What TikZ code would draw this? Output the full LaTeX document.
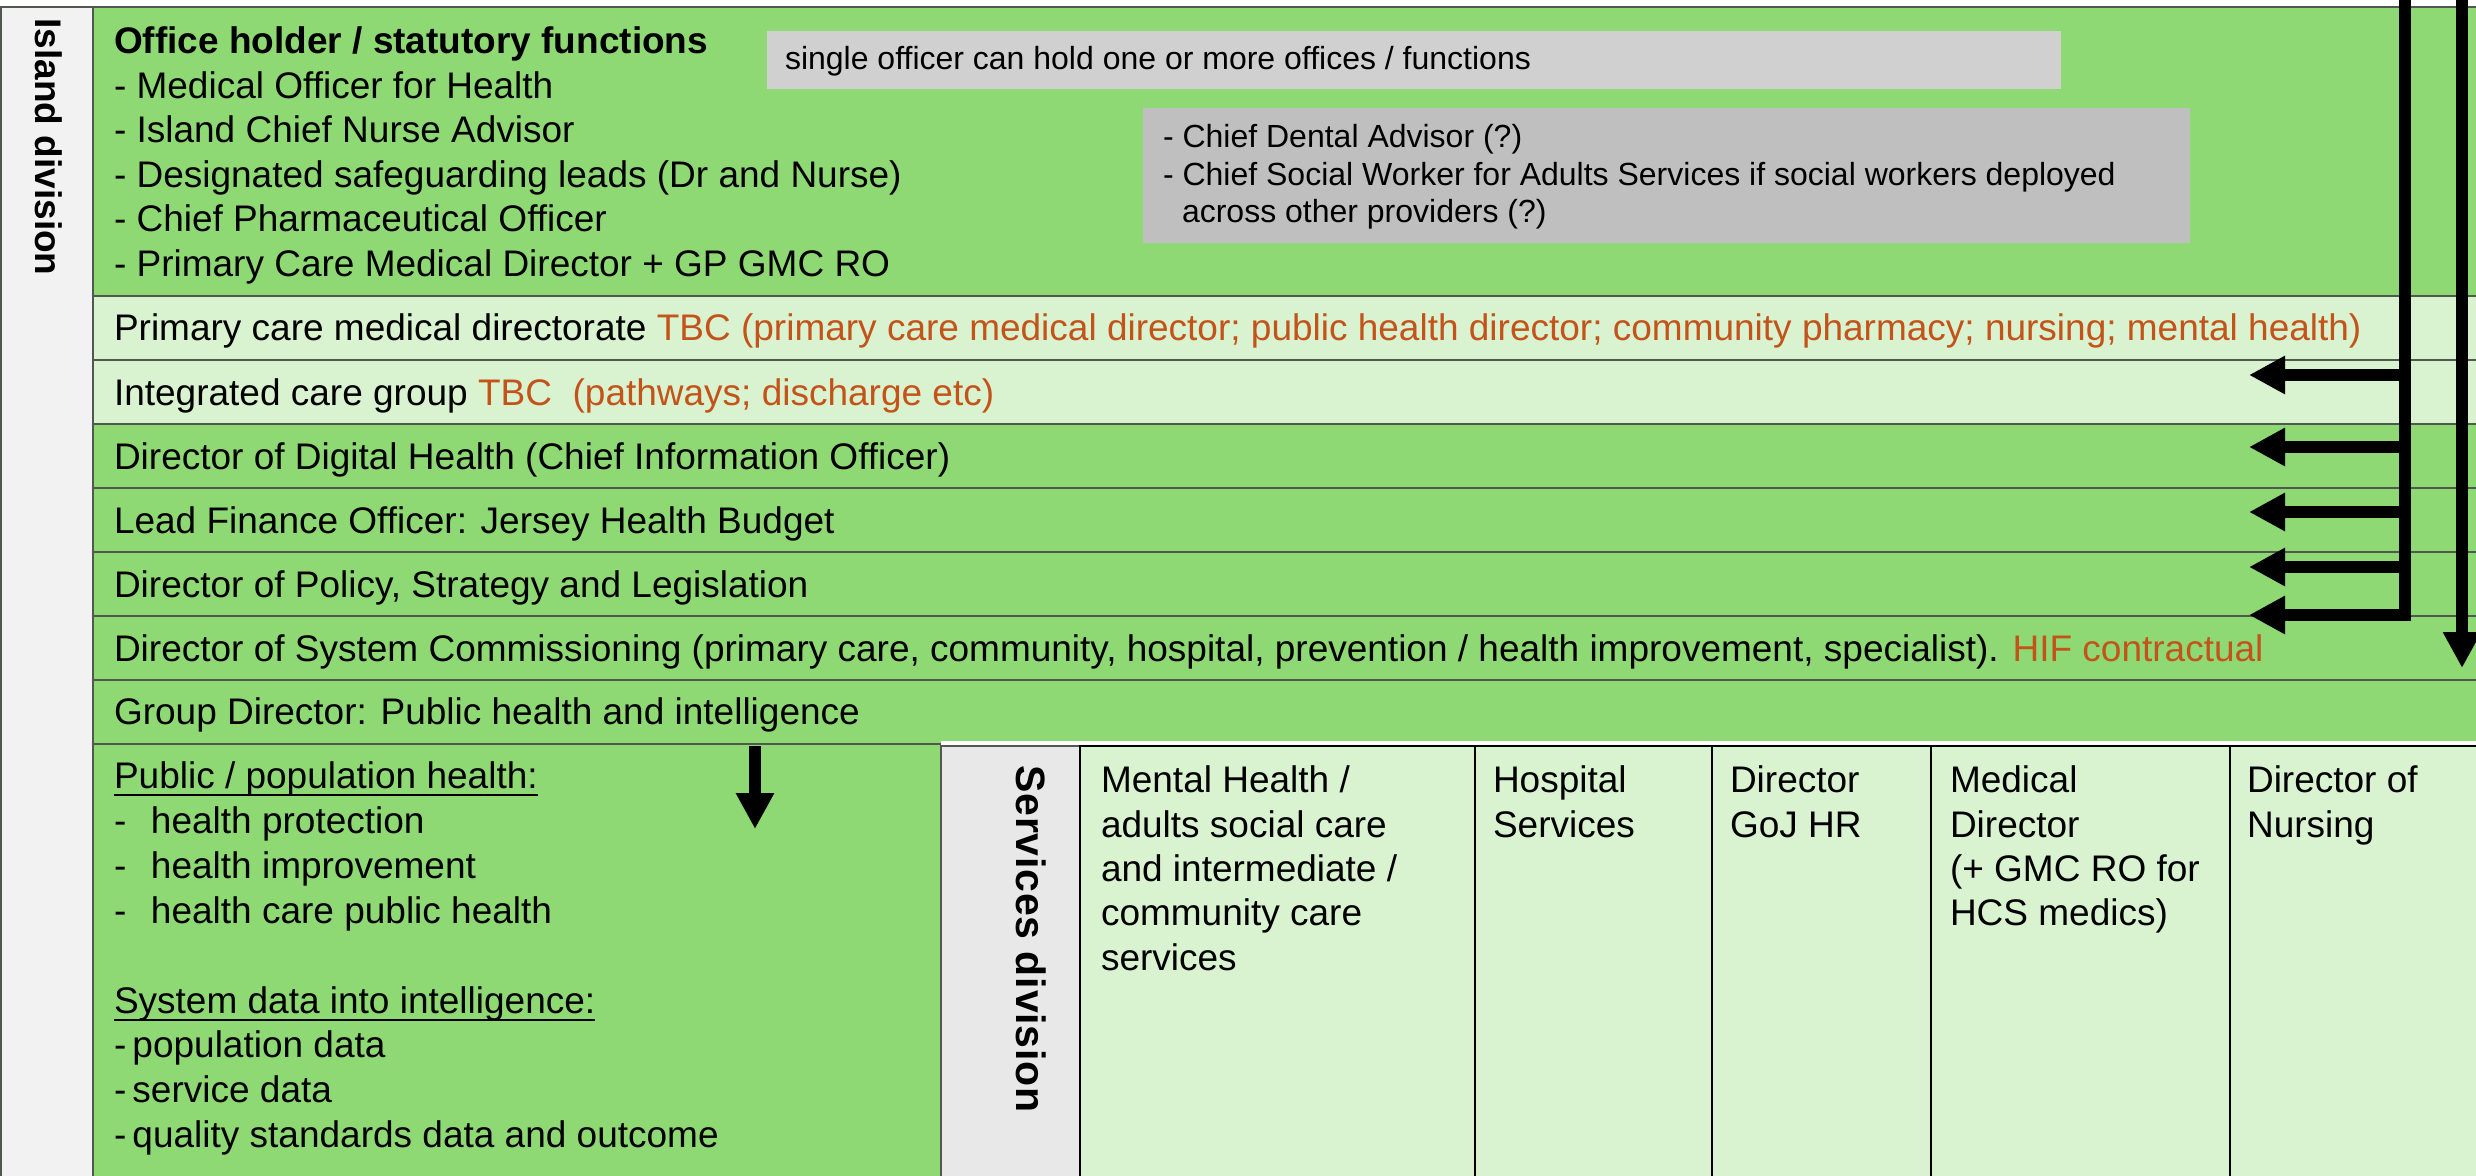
\documentclass[tikz,border=0pt]{standalone}
\usepackage{fontspec}
\setmainfont{Liberation Sans}
\usetikzlibrary{arrows.meta}

\definecolor{rowgreen}{HTML}{8ED973}
\definecolor{rowpale}{HTML}{D9F2D0}
\definecolor{notegray}{HTML}{D0D0D0}
\definecolor{notegraydark}{HTML}{BFBFBF}
\definecolor{sidegray}{HTML}{F2F2F2}
\definecolor{svcgray}{HTML}{E8E8E8}
\definecolor{tbc}{HTML}{C4531A}
\definecolor{rulegray}{HTML}{505850}

\newcommand\bodyfont{\fontsize{18.5pt}{22pt}\selectfont}
\newcommand\notefont{\fontsize{16pt}{19pt}\selectfont}

\tikzset{
  panel/.style={draw=rulegray, line width=1pt},
  cell/.style={fill=rowpale, draw=black, line width=1pt},
  txt/.style={anchor=base west, inner sep=0pt, outer sep=0pt, font=\bodyfont},
  note/.style={txt, font=\notefont},
  divlabel/.style={inner sep=0pt, outer sep=0pt, rotate=-90},
  fatarrow/.style={line width=6pt, -{Triangle[length=18pt,width=18pt]}},
  underrule/.style={line width=1pt}
}

\begin{document}
\begin{tikzpicture}[x=0.5pt, y=-0.5pt]
\useasboundingbox (0,0) rectangle (2476,1176);
\fill[white] (0,0) rectangle (2476,1176);

% side column of the island division
\filldraw[fill=sidegray, panel] (1,7) rectangle (93,1182);

% office holder panel and the directorate rows
\filldraw[fill=rowgreen, panel] (93,7) rectangle (2482,296);
\filldraw[fill=rowpale, panel] (93,296) rectangle (2482,360);
\filldraw[fill=rowpale, panel] (93,360) rectangle (2482,424);
\filldraw[fill=rowgreen, panel] (93,424) rectangle (2482,488);
\filldraw[fill=rowgreen, panel] (93,488) rectangle (2482,552);
\filldraw[fill=rowgreen, panel] (93,552) rectangle (2482,616);
\filldraw[fill=rowgreen, panel] (93,616) rectangle (2482,680);
\filldraw[fill=rowgreen, panel] (93,680) rectangle (2482,744);

% public health panel
\filldraw[fill=rowgreen, panel] (93,744) rectangle (941,1182);

% services division table
\fill[white] (941,741) rectangle (2482,746);
\filldraw[fill=svcgray, panel] (941,746) rectangle (1080,1182);
\filldraw[cell] (1080,746) rectangle (1475,1182);
\filldraw[cell] (1475,746) rectangle (1712,1182);
\filldraw[cell] (1712,746) rectangle (1931,1182);
\filldraw[cell] (1931,746) rectangle (2230,1182);
\filldraw[cell] (2230,746) rectangle (2482,1182);

% side notes
\fill[notegray] (767,31) rectangle (2061,89);
\fill[notegraydark] (1143,108) rectangle (2190,243);

% division labels
\node[divlabel, font=\bodyfont\bfseries] (island) at (49,147) {Island division};
\node[divlabel, font=\fontsize{20.5pt}{24pt}\selectfont\bfseries\addfontfeature{LetterSpace=2}] (services) at (1031,939) {Services division};

% office holders
\node[txt, font=\bodyfont\bfseries] (hdr) at (114,54) {Office holder / statutory functions};
\node[txt] (of1) at (114,98.5) {- Medical Officer for Health};
\node[txt] (of2) at (114,143) {- Island Chief Nurse Advisor};
\node[txt] (of3) at (114,187.5) {- Designated safeguarding leads (Dr and Nurse)};
\node[txt] (of4) at (114,232) {- Chief Pharmaceutical Officer};
\node[txt] (of5) at (114,276.5) {- Primary Care Medical Director + GP GMC RO};

\node[note] (nt1) at (785,70) {single officer can hold one or more offices / functions};
\node[note] (nt2) at (1163,148) {- Chief Dental Advisor (?)};
\node[note] (nt3) at (1163,186) {- Chief Social Worker for Adults Services if social workers deployed};
\node[note] (nt4) at (1182,223) {across other providers (?)};

% directorate rows
\node[txt] (rPC) at (114,341) {Primary care medical directorate \textcolor{tbc}{TBC (primary care medical director; public health director; community pharmacy; nursing; mental health)}};
\node[txt] (rIC) at (114,405) {Integrated care group \textcolor{tbc}{TBC\ \ (pathways; discharge etc)}};
\node[txt] (rDH) at (114,469) {Director of Digital Health (Chief Information Officer)};
\node[txt] (rLF) at (114,533) {Lead Finance Officer: Jersey Health Budget};
\node[txt] (rPol) at (114,597) {Director of Policy, Strategy and Legislation};
\node[txt] (rSC) at (114,661) {Director of System Commissioning (primary care, community, hospital, prevention / health improvement, specialist). \textcolor{tbc}{HIF contractual}};
\node[txt] (rGD) at (114,724) {Group Director: Public health and intelligence};

% public health and intelligence
\node[txt] (phH) at (114,788) {Public / population health:};
\draw[underrule] ([yshift=-3.5pt]phH.base west) -- ([yshift=-3.5pt]phH.base east);
\node[txt] (ph1) at (114,833) {\makebox[18.5pt][l]{-}health protection};
\node[txt] (ph2) at (114,878) {\makebox[18.5pt][l]{-}health improvement};
\node[txt] (ph3) at (114,923) {\makebox[18.5pt][l]{-}health care public health};
\node[txt] (sdH) at (114,1013) {System data into intelligence:};
\draw[underrule] ([yshift=-3.5pt]sdH.base west) -- ([yshift=-3.5pt]sdH.base east);
\node[txt] (sd1) at (114,1057) {-\,population data};
\node[txt] (sd2) at (114,1102) {-\,service data};
\node[txt] (sd3) at (114,1147) {-\,quality standards data and outcome};

% services columns
\node[txt] (mh1) at (1101,792) {Mental Health /};
\node[txt] (mh2) at (1101,837) {adults social care};
\node[txt] (mh3) at (1101,881) {and intermediate /};
\node[txt] (mh4) at (1101,925) {community care};
\node[txt] (mh5) at (1101,970) {services};
\node[txt] (hs1) at (1493,792) {Hospital};
\node[txt] (hs2) at (1493,837) {Services};
\node[txt] (hr1) at (1730,792) {Director};
\node[txt] (hr2) at (1730,837) {GoJ HR};
\node[txt] (md1) at (1950,792) {Medical};
\node[txt] (md2) at (1950,837) {Director};
\node[txt] (md3) at (1950,881) {(+ GMC RO for};
\node[txt] (md4) at (1950,925) {HCS medics)};
\node[txt] (dn1) at (2247,792) {Director of};
\node[txt] (dn2) at (2247,837) {Nursing};

% feeds into the directorate rows
\coordinate (busA) at (2405,0);
\coordinate (tipIC) at (2249,375);
\coordinate (tipDH) at (2249,447);
\coordinate (tipLF) at (2249,512);
\coordinate (tipPol) at (2249,567);
\coordinate (tipSC) at (2249,615);
\draw[fatarrow] (busA) |- (tipSC);
\draw[fatarrow] (busA |- tipIC) -- (tipIC);
\draw[fatarrow] (busA |- tipDH) -- (tipDH);
\draw[fatarrow] (busA |- tipLF) -- (tipLF);
\draw[fatarrow] (busA |- tipPol) -- (tipPol);

\coordinate (busB) at (2462,0);
\coordinate (tipB) at (2462,668);
\draw[fatarrow] (busB) -- (tipB);

% public health feed
\coordinate (phTop) at (755,746);
\coordinate (phTip) at (755,829);
\draw[fatarrow] (phTop) -- (phTip);
\end{tikzpicture}
\end{document}
